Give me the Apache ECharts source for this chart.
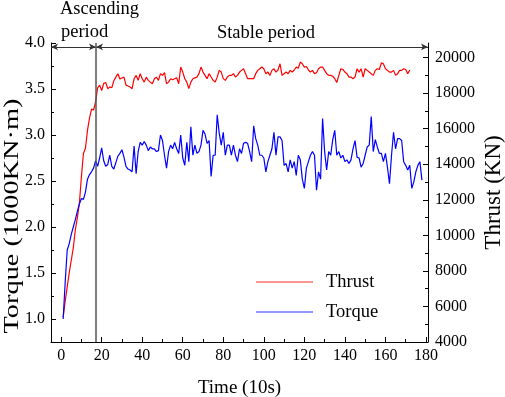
<!DOCTYPE html>
<html>
<head>
<meta charset="utf-8">
<script src="https://cdn.jsdelivr.net/npm/echarts@6/dist/echarts.min.js"></script>
<style>
html,body{margin:0;padding:0;background:#fff}
#chart{width:505px;height:397px}
</style>
</head>
<body>
<div id="chart"></div>
<script>
// torque (1000KN·m), one value per 10 s step starting at 1
const torque = [
  1.00, 1.40, 1.75, 1.82, 1.92, 2.00, 2.08, 2.17, 2.25, 2.31,
  2.30, 2.38, 2.52, 2.57, 2.60, 2.64, 2.72, 2.66, 2.75, 2.86,
  2.72, 2.66, 2.68, 2.78, 2.66, 2.63, 2.70, 2.77, 2.80, 2.84,
  2.76, 2.66, 2.63, 2.62, 2.60, 2.88, 2.58, 2.82, 2.92, 2.89,
  2.93, 2.89, 2.83, 2.87, 2.85, 2.85, 2.82, 2.83, 3.00, 2.94,
  2.78, 2.64, 2.82, 2.89, 2.85, 2.92, 2.85, 2.80, 3.00, 2.75,
  2.67, 2.92, 2.71, 3.09, 2.78, 2.89, 2.80, 2.82, 2.89, 3.05,
  3.01, 2.91, 2.94, 2.55, 2.78, 2.78, 3.22, 3.02, 2.89, 3.03,
  2.78, 2.89, 2.89, 2.78, 2.89, 2.78, 2.71, 2.85, 2.80, 2.91,
  2.92, 2.91, 2.82, 2.71, 3.10, 2.96, 2.89, 2.78, 2.78, 2.75,
  2.60, 2.71, 2.78, 2.85, 3.03, 2.78, 2.98, 2.98, 2.94, 2.67,
  2.69, 2.60, 2.73, 2.64, 2.71, 2.56, 2.78, 2.73, 2.52, 2.42,
  2.64, 2.71, 2.78, 2.82, 2.78, 2.40, 2.60, 2.52, 3.18, 2.82,
  2.62, 2.82, 2.78, 2.95, 3.05, 2.78, 2.82, 2.75, 2.78, 2.71,
  2.73, 2.69, 2.73, 2.85, 2.94, 2.76, 2.75, 2.65, 2.69, 2.78,
  2.87, 2.89, 3.20, 2.82, 2.95, 2.87, 2.80, 2.80, 2.71, 2.80,
  2.65, 2.47, 2.78, 3.03, 2.85, 2.96, 2.96, 2.94, 2.71, 2.67,
  2.62, 2.67, 2.42, 2.49, 2.60, 2.67, 2.71, 2.51
];
// thrust (KN)
const thrust = [
  5400, 6300, 7100, 7900, 8600, 9300, 10300, 11000, 11800, 13300,
  14600, 14900, 15900, 16600, 17100, 17050, 17500, 18300, 18450, 18150,
  18550, 18600, 18250, 18350, 18300, 18700, 18900, 19090, 18800, 18850,
  18900, 18450, 18400, 18340, 18250, 18810, 19000, 18720, 19095, 18810,
  18620, 18900, 18720, 18620, 18530, 18810, 18900, 18720, 19095, 19000,
  19150, 18530, 18620, 18810, 18750, 18810, 18870, 18530, 19466, 19185,
  18810, 18620, 18250, 18620, 18810, 18860, 18900, 19095, 19466, 19185,
  19000, 18814, 19095, 18904, 18718, 18622, 18900, 19280, 19185, 18814,
  18718, 18904, 19000, 19000, 19095, 18904, 19000, 19185, 19280, 19373,
  19095, 18814, 18814, 18814, 18814, 19095, 19280, 19373, 19466, 19373,
  19095, 19185, 19000, 19280, 19373, 19185, 19300, 19650, 19000, 19095,
  19185, 19095, 19280, 19185, 19300, 19466, 19400, 19747, 19653, 19466,
  19500, 19300, 19185, 19280, 19095, 19150, 19373, 19466, 19466, 19280,
  19095, 19000, 19000, 18950, 18814, 18600, 19000, 19373, 19330, 19185,
  19095, 18904, 18904, 18814, 18904, 19373, 19185, 19373, 18904, 19373,
  19280, 19185, 19095, 19000, 19280, 19373, 19330, 19700, 19653, 19373,
  19280, 19185, 19185, 19280, 19000, 19095, 19280, 19280, 19373, 19330,
  19095, 19300
];

const timeTicks = [0, 20, 40, 60, 80, 100, 120, 140, 160, 180];
const timeMinor = [0, 10, 20, 30, 40, 50, 60, 70, 80, 90, 100, 110, 120, 130, 140, 150, 160, 170, 180];
const torqueTicks = [1.0, 1.5, 2.0, 2.5, 3.0, 3.5, 4.0];
const torqueMinor = [0.75, 1.0, 1.25, 1.5, 1.75, 2.0, 2.25, 2.5, 2.75, 3.0, 3.25, 3.5, 3.75, 4.0];
const thrustTicks = [4000, 6000, 8000, 10000, 12000, 14000, 16000, 18000, 20000];
const thrustMinor = [4000, 5000, 6000, 7000, 8000, 9000, 10000, 11000, 12000, 13000, 14000, 15000, 16000, 17000, 18000, 19000, 20000];

const ascendEnd = 17.2;   // boundary between the two periods
const arrowLevel = 3.957; // height of the period arrows (torque units)

const font = '"Liberation Serif", "Times New Roman", serif';
const black = '#000';

function majorAxis(extra) {
    return Object.assign({
        type: 'value',
        splitLine: {show: false},
        axisLine: {show: true, onZero: false, lineStyle: {color: black, width: 1}},
        nameLocation: 'middle',
        nameMoveOverlap: false
    }, extra);
}
function minorAxis(extra) {
    return Object.assign({
        type: 'value',
        splitLine: {show: false},
        axisLine: {show: false, onZero: false},
        axisLabel: {show: false}
    }, extra);
}

const chart = echarts.init(document.getElementById('chart'));
chart.setOption({
    animation: false,
    backgroundColor: '#fff',
    grid: {left: 51, right: 77, top: 43, bottom: 55, containLabel: false, outerBoundsMode: 'none'},
    legend: {
        data: ['Thrust', 'Torque'],
        orient: 'vertical',
        left: 256,
        top: 272,
        padding: 0,
        icon: 'rect',
        itemWidth: 57,
        itemHeight: 1.3,
        itemGap: 10,
        itemStyle: {opacity: 0.55},
        textStyle: {color: black, fontFamily: font, fontSize: 18.5, lineHeight: 20, padding: [0, 0, 0, 8]}
    },
    xAxis: [
        majorAxis({
            min: -5, max: 181, position: 'bottom',
            name: 'Time (10s)', nameGap: 37,
            nameTextStyle: {color: black, fontFamily: font, fontSize: 19},
            axisTick: {show: true, inside: true, length: 5, customValues: timeTicks, lineStyle: {color: black}},
            axisLabel: {color: black, fontFamily: font, fontSize: 16, margin: 6, customValues: timeTicks}
        }),
        minorAxis({
            min: -5, max: 181, position: 'bottom',
            axisTick: {show: true, inside: true, length: 3, customValues: timeMinor, lineStyle: {color: black}}
        })
    ],
    yAxis: [
        majorAxis({
            min: 0.75, max: 4.0, position: 'left',
            axisTick: {show: true, inside: true, length: 5, customValues: torqueTicks, lineStyle: {color: black}},
            axisLabel: {color: black, fontFamily: font, fontSize: 16, margin: 6, customValues: torqueTicks,
                formatter: v => v.toFixed(1)}
        }),
        majorAxis({
            min: 4000, max: 20820, position: 'right',
            name: 'Thrust (KN)', nameGap: 54,
            nameTextStyle: {color: black, fontFamily: font, fontSize: 23},
            axisTick: {show: true, inside: true, length: 5, customValues: thrustTicks, lineStyle: {color: black}},
            axisLabel: {color: black, fontFamily: font, fontSize: 16, margin: 7, customValues: thrustTicks,
                formatter: v => String(v)}
        }),
        minorAxis({
            min: 0.75, max: 4.0, position: 'left',
            axisTick: {show: true, inside: true, length: 3, customValues: torqueMinor, lineStyle: {color: black}}
        }),
        minorAxis({
            min: 4000, max: 20820, position: 'right',
            axisTick: {show: true, inside: true, length: 3, customValues: thrustMinor, lineStyle: {color: black}}
        })
    ],
    series: [
        {
            name: 'Thrust',
            type: 'line',
            xAxisIndex: 0,
            yAxisIndex: 1,
            symbol: 'none',
            data: thrust.map((v, i) => [i + 1, v]),
            itemStyle: {color: '#ff0000'},
            lineStyle: {color: '#ff0000', width: 1.2}
        },
        {
            name: 'Torque',
            type: 'line',
            xAxisIndex: 0,
            yAxisIndex: 0,
            symbol: 'none',
            data: torque.map((v, i) => [i + 1, v]),
            itemStyle: {color: '#0000ff'},
            lineStyle: {color: '#0000ff', width: 1.2},
            markLine: {
                silent: true,
                animation: false,
                symbol: ['arrow', 'arrow'],
                symbolSize: [5, 7],
                label: {show: false},
                emphasis: {disabled: true},
                lineStyle: {color: '#333', width: 1, type: 'solid'},
                data: [
                    [{coord: [-5, arrowLevel]}, {coord: [ascendEnd, arrowLevel]}],
                    [{coord: [ascendEnd, arrowLevel]}, {coord: [181, arrowLevel]}],
                    [
                        {coord: [ascendEnd, 0.75], symbol: 'none', lineStyle: {color: '#555', width: 1.5, type: 'solid'}},
                        {coord: [ascendEnd, 4.0], symbol: 'none'}
                    ]
                ]
            }
        }
    ],
    graphic: [
        {type: 'text', x: 60, y: 9, style: {text: 'Ascending', font: '18.5px ' + font, fill: black, align: 'left', verticalAlign: 'middle'}},
        {type: 'text', x: 61, y: 32, style: {text: 'period', font: '18.5px ' + font, fill: black, align: 'left', verticalAlign: 'middle'}},
        {type: 'text', x: 266, y: 33, style: {text: 'Stable period', font: '18.5px ' + font, fill: black, align: 'center', verticalAlign: 'middle'}},
        // left axis title, drawn stretched along its length like the original
        {type: 'text', x: 12, y: 216, rotation: Math.PI / 2, scaleX: 1.35, scaleY: 1,
            style: {text: 'Torque (1000KN·m)', font: '21px ' + font, fill: black, align: 'center', verticalAlign: 'middle'}}
    ]
});
</script>
</body>
</html>
